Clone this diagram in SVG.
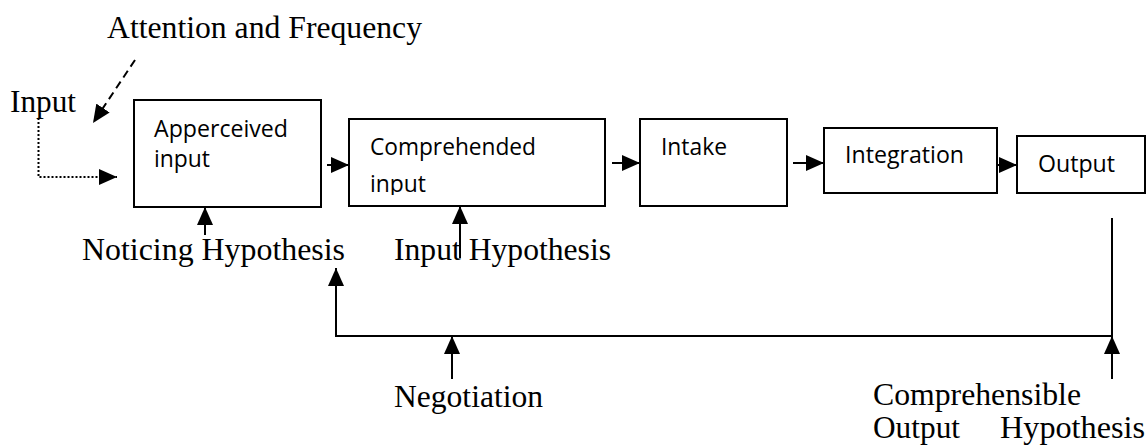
<svg xmlns="http://www.w3.org/2000/svg" width="1147" height="448" viewBox="0 0 1147 448">
<style>
.box{fill:#fff;stroke:#000;stroke-width:2}
.ser{font-family:"Liberation Serif","Times New Roman",serif;font-size:32px;fill:#000}
.san{font-family:"Open Sans","Noto Sans",sans-serif;font-size:23px;fill:#000}
.ln{fill:none;stroke:#000;stroke-width:2}
</style>
<defs>
<marker id="ah" markerUnits="userSpaceOnUse" markerWidth="18" markerHeight="16" refX="18" refY="8" orient="auto">
<path d="M0,0 L18,8 L0,16 z" fill="#000"/>
</marker>
<clipPath id="clip2"><rect x="349" y="119" width="256" height="76"/></clipPath>
</defs>
<g id="label-attention"><text class="ser" x="107" y="38" textLength="315" lengthAdjust="spacingAndGlyphs">Attention and Frequency</text></g>
<g id="label-input"><text class="ser" x="10" y="112" textLength="66" lengthAdjust="spacingAndGlyphs">Input</text></g>
<g id="node-apperceived">
<rect class="box" x="134" y="100" width="187" height="107"/>
<text class="san" x="154" y="137" textLength="134" lengthAdjust="spacingAndGlyphs">Apperceived</text>
<text class="san" x="154" y="167" textLength="56" lengthAdjust="spacingAndGlyphs">input</text>
</g>
<g id="node-comprehended">
<rect class="box" x="349" y="119" width="256" height="87"/>
<text class="san" x="370" y="155" textLength="166" lengthAdjust="spacingAndGlyphs">Comprehended</text>
<text class="san" x="370" y="192" textLength="56" lengthAdjust="spacingAndGlyphs" clip-path="url(#clip2)">input</text>
</g>
<g id="node-intake">
<rect class="box" x="640" y="119" width="147" height="87"/>
<text class="san" x="661" y="155" textLength="66" lengthAdjust="spacingAndGlyphs">Intake</text>
</g>
<g id="node-integration">
<rect class="box" x="824" y="128" width="173" height="65"/>
<text class="san" x="845" y="163" textLength="119" lengthAdjust="spacingAndGlyphs">Integration</text>
</g>
<g id="node-output">
<rect class="box" x="1017" y="136" width="128" height="57"/>
<text class="san" x="1038" y="172" textLength="77" lengthAdjust="spacingAndGlyphs">Output</text>
</g>
<g id="label-noticing"><text class="ser" x="82" y="260" textLength="263" lengthAdjust="spacingAndGlyphs">Noticing Hypothesis</text></g>
<g id="label-inputhyp"><text class="ser" x="394" y="260" textLength="217" lengthAdjust="spacingAndGlyphs">Input Hypothesis</text></g>
<g id="label-negotiation"><text class="ser" x="394" y="407" textLength="149" lengthAdjust="spacingAndGlyphs">Negotiation</text></g>
<g id="label-comprehensible">
<text class="ser" x="873" y="405" textLength="208" lengthAdjust="spacingAndGlyphs">Comprehensible</text>
<text class="ser" x="873" y="438" textLength="87" lengthAdjust="spacingAndGlyphs">Output</text>
<text class="ser" x="1000" y="438" textLength="145" lengthAdjust="spacingAndGlyphs">Hypothesis</text>
</g>
<g id="connectors">
<line class="ln" x1="135" y1="60" x2="93" y2="123" stroke-dasharray="8,5" marker-end="url(#ah)"/>
<polyline class="ln" points="38.5,118 38.5,177 117,177" stroke-dasharray="2,2" marker-end="url(#ah)"/>
<line class="ln" x1="327" y1="165" x2="349" y2="165" marker-end="url(#ah)"/>
<line class="ln" x1="612" y1="163" x2="640" y2="163" marker-end="url(#ah)"/>
<line class="ln" x1="793" y1="163" x2="824" y2="163" marker-end="url(#ah)"/>
<line class="ln" x1="997" y1="165" x2="1017" y2="165" marker-end="url(#ah)"/>
<line class="ln" x1="205" y1="235" x2="205" y2="207" marker-end="url(#ah)"/>
<line class="ln" x1="460" y1="258" x2="460" y2="206" marker-end="url(#ah)"/>
<polyline class="ln" points="1112,218 1112,336 336,336 336,268" marker-end="url(#ah)"/>
<line class="ln" x1="452" y1="379" x2="452" y2="336" marker-end="url(#ah)"/>
<line class="ln" x1="1112" y1="379" x2="1112" y2="336" marker-end="url(#ah)"/>
</g>
</svg>
